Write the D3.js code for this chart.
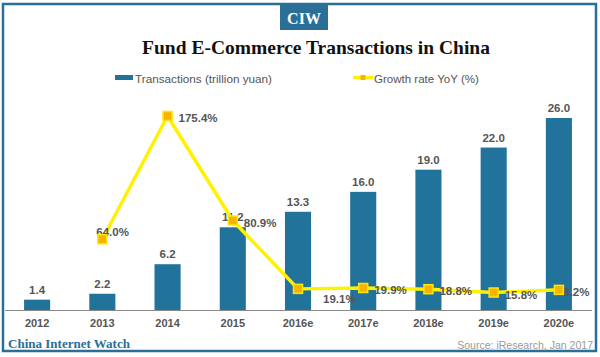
<!DOCTYPE html>
<html>
<head>
<meta charset="utf-8">
<script src="https://cdn.jsdelivr.net/npm/d3@7"></script>
<style>
  html, body { margin: 0; padding: 0; background: #fff; }
  svg { display: block; }
</style>
</head>
<body>
<svg id="chart" width="600" height="357"></svg>
<script>
// ---- Data ----
const categories = ["2012", "2013", "2014", "2015", "2016e", "2017e", "2018e", "2019e", "2020e"];
const transactions = [1.4, 2.2, 6.2, 11.2, 13.3, 16.0, 19.0, 22.0, 26.0];
const growthRate = [null, 64.0, 175.4, 80.9, 19.1, 19.9, 18.8, 15.8, 18.2];
const seriesNames = ["Transactions (trillion yuan)", "Growth rate YoY (%)"];
const titleText = "Fund E-Commerce Transactions in China";
const logoText = "CIW";
const brandText = "China Internet Watch";
const sourceText = "Source: iResearch, Jan 2017";

// ---- Styles ----
const BLUE = "#22739c";
const FRAME = "#2a6f98";
const YELLOW = "#fff200";
const MARKER = "#f6b400";
const TEXT = "#555";

const svg = d3.select("#chart");

function fit(sel, target) {
  const w = sel.node().getComputedTextLength();
  const s = parseFloat(sel.attr("font-size"));
  sel.attr("font-size", (s * target / w).toFixed(2));
  return sel;
}

// Frame
svg.append("rect").attr("x", 3).attr("y", 4).attr("width", 593).attr("height", 347)
  .attr("fill", "#fff").attr("stroke", FRAME).attr("stroke-width", 2.5);

// Logo box
svg.append("rect").attr("x", 280).attr("y", 4).attr("width", 48).attr("height", 26).attr("fill", FRAME);
svg.append("text").attr("x", 304).attr("y", 23.5).attr("text-anchor", "middle")
  .attr("font-family", "Liberation Serif, serif").attr("font-weight", "bold")
  .attr("font-size", 16).attr("fill", "#fff").text(logoText);

// Title
fit(svg.append("text").attr("x", 316).attr("y", 54).attr("text-anchor", "middle")
  .attr("font-family", "Liberation Serif, serif").attr("font-weight", "bold")
  .attr("font-size", 19).attr("fill", "#111").text(titleText), 348);

// Scales
const x = d3.scaleBand().domain(categories).range([4.5, 591.5]).paddingInner(0.6).paddingOuter(0.3);
const yBar = d3.scaleLinear().domain([0, 26]).range([310, 118]);
const yLine = d3.scaleLinear().domain([0, 175.4]).range([310, 116]);
const cx = c => x(c) + x.bandwidth() / 2;

// Legend
svg.append("rect").attr("x", 115).attr("y", 75).attr("width", 18).attr("height", 5).attr("fill", BLUE);
fit(svg.append("text").attr("x", 135).attr("y", 83)
  .attr("font-family", "Liberation Sans, Arial, sans-serif").attr("font-size", 12)
  .attr("fill", TEXT).text(seriesNames[0]), 137);
svg.append("line").attr("x1", 353).attr("x2", 373).attr("y1", 77.5).attr("y2", 77.5)
  .attr("stroke", YELLOW).attr("stroke-width", 3);
svg.append("rect").attr("x", 360.5).attr("y", 75).attr("width", 5).attr("height", 5).attr("fill", MARKER);
fit(svg.append("text").attr("x", 374).attr("y", 83)
  .attr("font-family", "Liberation Sans, Arial, sans-serif").attr("font-size", 12)
  .attr("fill", TEXT).text(seriesNames[1]), 105);

// Bars
const barData = categories.map((c, i) => ({ c, v: transactions[i] }));
svg.append("g").selectAll("rect").data(barData).join("rect")
  .attr("x", d => x(d.c)).attr("width", x.bandwidth())
  .attr("y", d => yBar(d.v)).attr("height", d => yBar(0) - yBar(d.v))
  .attr("fill", BLUE);

// Axis line + tick labels
const axis = d3.axisBottom(x).tickSize(0).tickPadding(9);
const gx = svg.append("g").attr("transform", `translate(0,${yBar(0)})`).call(axis);
gx.select(".domain").attr("stroke", "#8a8a8a").attr("stroke-width", 1);
gx.selectAll("text").attr("font-family", "Liberation Sans, Arial, sans-serif")
  .attr("font-weight", "bold").attr("font-size", 11).attr("fill", TEXT);

// Bar value labels
svg.append("g").selectAll("text").data(barData).join("text")
  .attr("x", d => cx(d.c)).attr("y", d => yBar(d.v) - 6)
  .attr("text-anchor", "middle")
  .attr("font-family", "Liberation Sans, Arial, sans-serif").attr("font-weight", "bold")
  .attr("font-size", 11.5).attr("fill", TEXT)
  .text(d => d.v.toFixed(1));

// Growth line
const lineData = categories.map((c, i) => ({ c, v: growthRate[i], i })).filter(d => d.v !== null);
const line = d3.line().x(d => cx(d.c)).y(d => yLine(d.v));
svg.append("path").datum(lineData).attr("d", line)
  .attr("fill", "none").attr("stroke", YELLOW).attr("stroke-width", 3.5).attr("stroke-linejoin", "round");

// Growth labels (layout offsets)
const labelOffset = i => ({ 1: [-6, -7], 4: [25, 10], 8: [-2, 2] }[i] || [11, 2]);
svg.append("g").selectAll("text").data(lineData).join("text")
  .attr("x", d => cx(d.c) + labelOffset(d.i)[0])
  .attr("y", d => yLine(d.v) + labelOffset(d.i)[1])
  .attr("dy", "0.36em")
  .attr("font-family", "Liberation Sans, Arial, sans-serif").attr("font-weight", "bold")
  .attr("font-size", 11.5).attr("fill", TEXT)
  .text(d => d.v.toFixed(1) + "%");

// Markers
svg.append("g").selectAll("rect").data(lineData).join("rect")
  .attr("x", d => cx(d.c) - 4.5).attr("y", d => yLine(d.v) - 4.5)
  .attr("width", 9).attr("height", 9)
  .attr("fill", MARKER).attr("stroke", "#ffe600").attr("stroke-width", 1.5);

// Footer
fit(svg.append("text").attr("x", 8).attr("y", 347.5)
  .attr("font-family", "Liberation Serif, serif").attr("font-weight", "bold")
  .attr("font-size", 13).attr("fill", FRAME).text(brandText), 122);
fit(svg.append("text").attr("x", 593).attr("y", 348.5).attr("text-anchor", "end")
  .attr("font-family", "Liberation Sans, Arial, sans-serif")
  .attr("font-size", 12).attr("fill", "#9a9a9a").text(sourceText), 136);
</script>
</body>
</html>
